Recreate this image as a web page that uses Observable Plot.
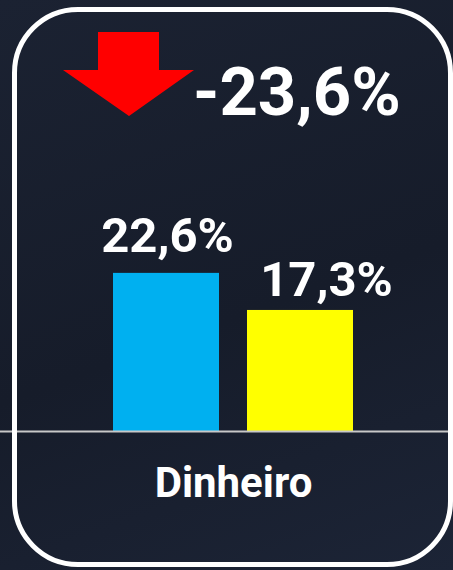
<!DOCTYPE html>
<html>
<head>
<meta charset="utf-8">
<script src="https://cdn.jsdelivr.net/npm/d3@7"></script>
<script src="https://cdn.jsdelivr.net/npm/@observablehq/plot@0.6"></script>
<style>
  html, body { margin: 0; padding: 0; }
  body { width: 453px; height: 570px; overflow: hidden;
    background: linear-gradient(160deg, #1b2232 0%, #161c2a 55%, #1c2436 100%); }
  #wrap { position: relative; width: 453px; height: 570px; }
  #border { position: absolute; left: 12px; top: 7px; width: 441px; height: 560px;
    box-sizing: border-box; border: 5px solid #ffffff; border-radius: 66px; }
  #overlay { position: absolute; left: 0; top: 0; }
  #chart { position: absolute; left: 0; top: 0; }
</style>
</head>
<body>
<div id="wrap">
  <div id="chart"></div>
  <div id="border"></div>
  <svg id="overlay" width="453" height="570">
    <polygon points="98,32 159,32 159,70 194,70 129,116 63,70 98,70" fill="#ff0000"></polygon>
    <text id="change" x="193" y="115" fill="#ffffff" font-family="Roboto" font-weight="bold" font-size="67"></text>
  </svg>
</div>
<script>
const categories = ["Dinheiro"];
const periods = ["Período anterior", "Período atual"];
const values = [22.6, 17.3];
const colors = ["#00B0F0", "#FFFF00"];
const changeLabel = "-23,6%";

document.getElementById("change").textContent = changeLabel;

const data = periods.map((p, i) => ({category: categories[0], period: p, value: values[i]}));
const fmt = v => v.toFixed(1).replace(".", ",") + "%";

const font = {fontFamily: "Roboto", fontWeight: "bold", fill: "#ffffff"};

const chart = Plot.plot({
  width: 453,
  height: 570,
  marginTop: 0,
  marginBottom: 139,
  marginLeft: 113,
  marginRight: 100,
  style: {background: "transparent", color: "#ffffff", fontFamily: "Roboto"},
  fx: {padding: 0, label: null},
  x: {domain: periods, paddingInner: 0.209, paddingOuter: 0, axis: null},
  y: {domain: [0, 61.6], axis: null},
  color: {domain: periods, range: colors},
  marks: [
    Plot.barY(data, {fx: "category", x: "period", y: "value", fill: "period"}),
    Plot.ruleY([0], {stroke: "#c8c8c8", strokeWidth: 2, insetLeft: -113, insetRight: -100}),
    Plot.text(data, {filter: d => d.period === periods[0], fx: "category", x: "period", y: "value",
      text: d => fmt(d.value), lineAnchor: "bottom", dy: -21, dx: 1, fontSize: 49, ...font}),
    Plot.text(data, {filter: d => d.period === periods[1], fx: "category", x: "period", y: "value",
      text: d => fmt(d.value), lineAnchor: "bottom", dy: -14, dx: 26, fontSize: 49, ...font}),
    Plot.axisFx({anchor: "bottom", tickSize: 0, tickPadding: 36, fontSize: 42, fontWeight: "bold",
      fontFamily: "Roboto", fill: "#ffffff", label: null})
  ]
});
document.getElementById("chart").appendChild(chart);
</script>
</body>
</html>
